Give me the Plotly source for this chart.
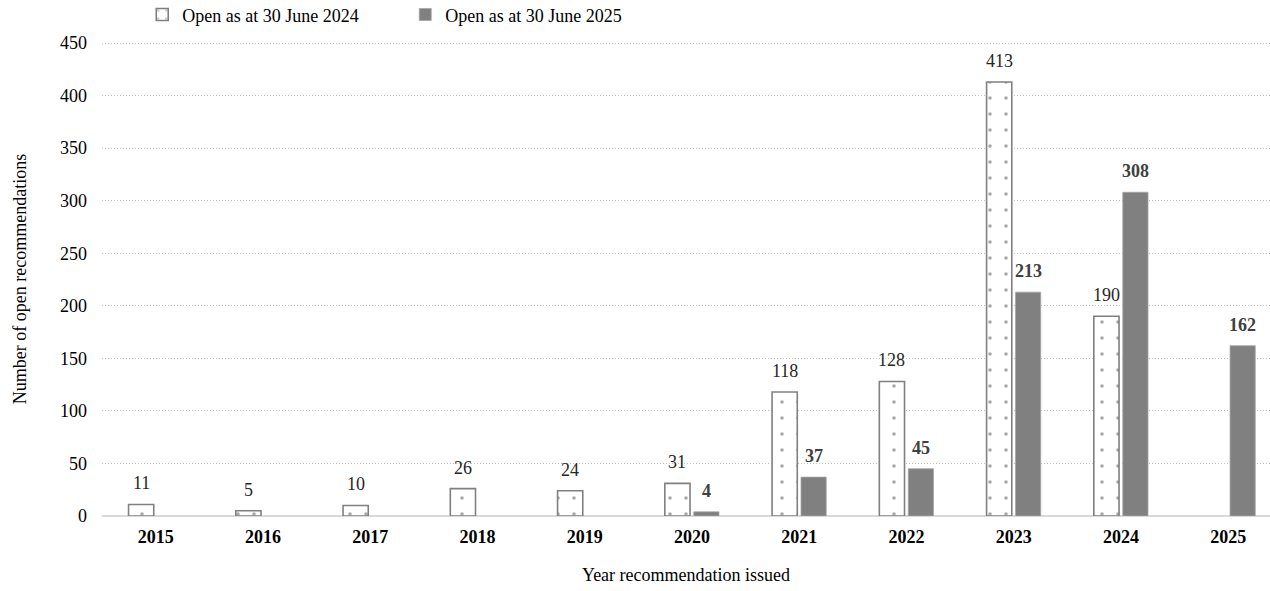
import plotly.graph_objects as go

years = ["2015", "2016", "2017", "2018", "2019", "2020", "2021", "2022", "2023", "2024", "2025"]
open_2024 = [11, 5, 10, 26, 24, 31, 118, 128, 413, 190, None]
open_2025 = [None, None, None, None, None, 4, 37, 45, 213, 308, 162]
series_names = ["Open as at 30 June 2024", "Open as at 30 June 2025"]
y_ticks = [0, 50, 100, 150, 200, 250, 300, 350, 400, 450]

FONT = "Liberation Serif, Times New Roman, serif"
xpos = list(range(len(years)))
bw = 0.235
off = 0.135

fig = go.Figure()
fig.add_trace(go.Bar(
    x=xpos, y=open_2024, name=series_names[0],
    width=bw, offset=-off - bw / 2,
    marker=dict(color="white", line=dict(color="#808080", width=1.6),
                pattern=dict(shape=".", fgcolor="#505050", bgcolor="white", size=16, solidity=0.04)),
))
fig.add_trace(go.Bar(
    x=xpos, y=open_2025, name=series_names[1],
    width=bw, offset=off - bw / 2,
    marker=dict(color="#808080", line=dict(color="#a6a6a6", width=0.8)),
))

for i, v in enumerate(open_2024):
    if v is not None:
        fig.add_annotation(x=i - off, y=v, text=str(v), showarrow=False, yshift=21,
                           font=dict(family=FONT, size=18, color="#262626"))
for i, v in enumerate(open_2025):
    if v is not None:
        fig.add_annotation(x=i + off, y=v, text="<b>" + str(v) + "</b>", showarrow=False, yshift=21,
                           font=dict(family=FONT, size=18, color="#404040"))

fig.update_layout(
    width=1270, height=591,
    margin=dict(l=102, r=0, t=42, b=75, autoexpand=False),
    paper_bgcolor="white", plot_bgcolor="white",
    barmode="overlay",
    font=dict(family=FONT, size=18, color="#000000"),
    showlegend=True,
    legend=dict(orientation="h", xref="container", yref="container",
                x=0.112, y=0.975, xanchor="left", yanchor="middle",
                font=dict(family=FONT, size=18, color="#000000"),
                entrywidth=218, entrywidthmode="pixels", itemwidth=30,
                bgcolor="rgba(0,0,0,0)"),
    xaxis=dict(
        range=[-0.5, 10.39], tickvals=xpos, ticktext=["<b>" + y + "</b>" for y in years],
        showgrid=False, zeroline=False, showline=False, ticks="",
        ticklabelstandoff=8,
        tickfont=dict(family=FONT, size=18, color="#000000"),
        title=dict(text="Year recommendation issued", standoff=22,
                   font=dict(family=FONT, size=18, color="#000000")),
    ),
    yaxis=dict(
        range=[0, 451], tickvals=y_ticks,
        showgrid=True, gridcolor="#c0c0c0", griddash="1px,2px", gridwidth=1,
        zeroline=True, zerolinecolor="#d9d9d9", zerolinewidth=2,
        showline=False, ticks="", ticklabelstandoff=14,
        tickfont=dict(family=FONT, size=18, color="#000000"),
        title=dict(text="Number of open recommendations", standoff=28,
                   font=dict(family=FONT, size=18, color="#000000")),
    ),
)

fig.write_html("out.html")
